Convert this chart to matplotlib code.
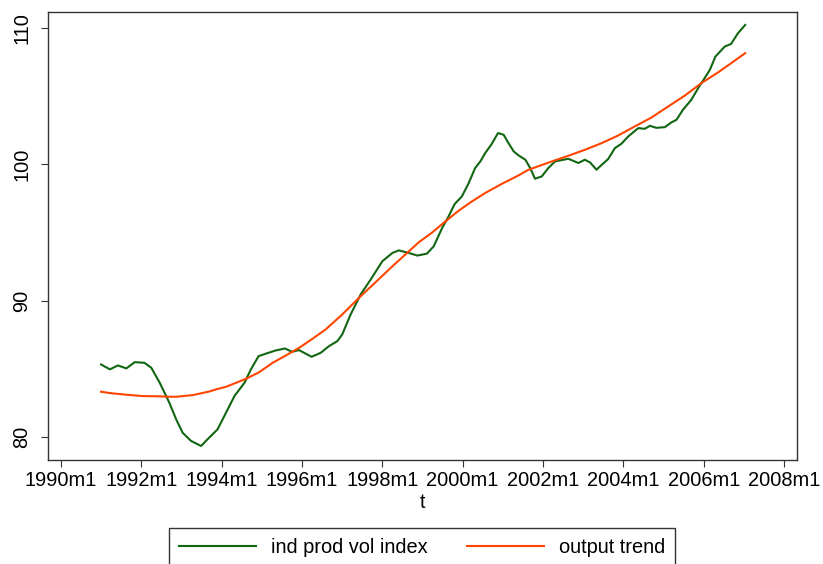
import matplotlib
matplotlib.use("Agg")
import matplotlib.pyplot as plt

plt.rcParams["font.family"] = ["Liberation Sans", "DejaVu Sans"]

# industrial production volume index (year fraction)
t_ind = [1991.00, 1991.22, 1991.42, 1991.63, 1991.84, 1992.08, 1992.25, 1992.46, 1992.70,
         1992.87, 1993.03, 1993.24, 1993.49, 1993.65, 1993.90, 1994.11, 1994.32, 1994.57,
         1994.73, 1994.92, 1995.10, 1995.35, 1995.58, 1995.75, 1995.93, 1996.24, 1996.47,
         1996.67, 1996.88, 1997.00, 1997.21, 1997.46, 1997.71, 1998.00, 1998.25, 1998.41,
         1998.66, 1998.87, 1999.11, 1999.28, 1999.49, 1999.65, 1999.80, 1999.98, 2000.15,
         2000.31, 2000.44, 2000.56, 2000.71, 2000.88, 2001.02, 2001.14, 2001.27, 2001.39,
         2001.56, 2001.68, 2001.80, 2001.97, 2002.13, 2002.30, 2002.63, 2002.88, 2003.04,
         2003.17, 2003.33, 2003.46, 2003.62, 2003.79, 2003.95, 2004.12, 2004.37, 2004.53,
         2004.66, 2004.82, 2005.03, 2005.19, 2005.32, 2005.48, 2005.69, 2005.86, 2006.02,
         2006.15, 2006.29, 2006.52, 2006.68, 2006.85, 2007.03]
ind = [85.31, 84.95, 85.24, 85.02, 85.48, 85.43, 85.07, 83.97, 82.50,
       81.28, 80.30, 79.70, 79.33, 79.82, 80.55, 81.77, 82.99, 83.97,
       84.95, 85.92, 86.10, 86.34, 86.48, 86.24, 86.36, 85.87, 86.17,
       86.65, 87.02, 87.50, 88.97, 90.44, 91.54, 92.88, 93.49, 93.68,
       93.49, 93.30, 93.44, 93.98, 95.33, 96.18, 97.08, 97.64, 98.62,
       99.72, 100.21, 100.82, 101.43, 102.29, 102.16, 101.55, 100.94, 100.65,
       100.33, 99.72, 98.94, 99.11, 99.72, 100.21, 100.40, 100.09, 100.33,
       100.13, 99.60, 99.96, 100.38, 101.19, 101.50, 102.04, 102.65, 102.60,
       102.82, 102.67, 102.72, 103.06, 103.26, 103.99, 104.73, 105.58, 106.31,
       106.92, 107.90, 108.63, 108.83, 109.61, 110.22]

# output trend
t_trend = [1991.00, 1991.22, 1991.63, 1992.04, 1992.46, 1992.70, 1992.87, 1993.28, 1993.70,
           1993.86, 1994.11, 1994.61, 1994.94, 1995.27, 1995.60, 1995.93, 1996.26, 1996.59,
           1997.00, 1997.42, 1997.83, 1998.25, 1998.66, 1998.91, 1999.24, 1999.57, 1999.90,
           2000.23, 2000.56, 2000.98, 2001.39, 2001.64, 2002.22, 2002.63, 2003.04, 2003.46,
           2003.87, 2004.28, 2004.70, 2005.11, 2005.53, 2005.94, 2006.35, 2006.68, 2007.03]
trend = [83.31, 83.21, 83.09, 82.99, 82.97, 82.94, 82.94, 83.06, 83.33,
         83.48, 83.67, 84.26, 84.75, 85.43, 85.97, 86.53, 87.19, 87.88,
         88.97, 90.20, 91.34, 92.51, 93.61, 94.28, 94.99, 95.81, 96.59,
         97.27, 97.89, 98.57, 99.18, 99.60, 100.21, 100.62, 101.06, 101.55,
         102.11, 102.77, 103.43, 104.23, 105.04, 105.95, 106.73, 107.41, 108.15]

xticks = [1990, 1992, 1994, 1996, 1998, 2000, 2002, 2004, 2006, 2008]
xlabels = [f"{y}m1" for y in xticks]
yticks = [80, 90, 100, 110]

fig = plt.figure(figsize=(8.23, 5.64), dpi=100)
ax = fig.add_axes([48/823, 1-460/564, (797-48)/823, (460-12)/564])
ax.plot(t_ind, ind, color="#116611", lw=1.5, label="ind prod vol index")
ax.plot(t_trend, trend, color="#ff4500", lw=1.5, label="output trend")

ax.set_xlim(1989.68, 2008.32); ax.set_ylim(78.3, 111.17)
ax.set_xticks(xticks); ax.set_xticklabels(xlabels)
ax.set_yticks(yticks); ax.set_yticklabels([str(v) for v in yticks], rotation=90, va="center")
ax.tick_params(axis="both", labelsize=14.4, length=5, width=0.8, color="#333333")
ax.tick_params(axis="x", pad=3); ax.tick_params(axis="y", pad=7)
for s in ax.spines.values(): s.set_color("#333333"); s.set_linewidth(1.0)
ax.set_xlabel("t", fontsize=14.4, labelpad=2)

fig.legend(loc="upper center", bbox_to_anchor=(422/823, 1-528/564), ncol=2, fontsize=14.4,
           frameon=True, fancybox=False, edgecolor="#333333", framealpha=1,
           handlelength=3.85, handletextpad=0.75, columnspacing=2.0, borderpad=0.5,
           borderaxespad=0)

fig.savefig("out.png", dpi=100)
